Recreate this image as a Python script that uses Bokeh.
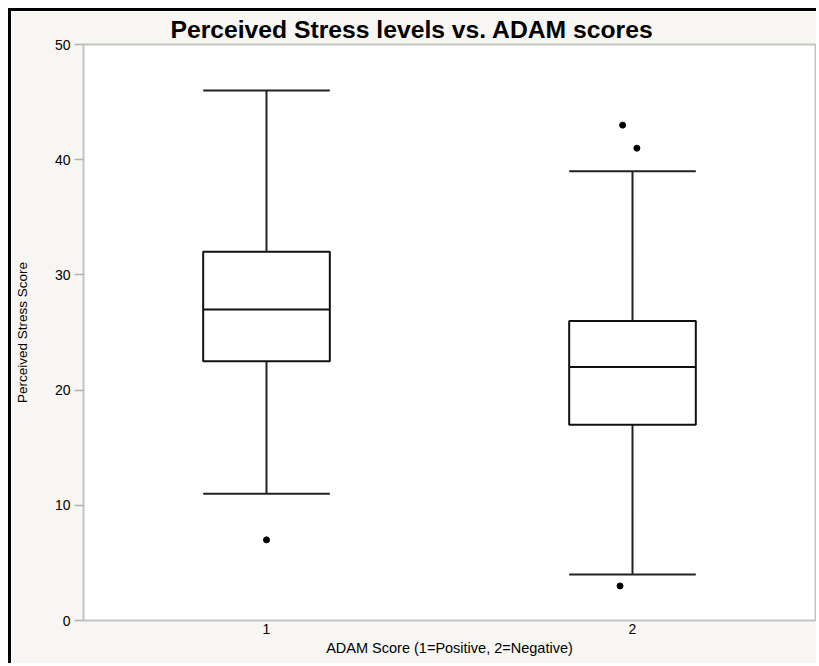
from bokeh.plotting import figure
from bokeh.models import Range1d, FixedTicker, Title
from bokeh.embed import file_html
from bokeh.resources import INLINE
import numpy as np

# Data
groups = [1, 2]
group_labels = ["1", "2"]
q1 = [22.5, 17]
median = [27, 22]
q3 = [32, 26]
lower_whisker = [11, 4]
upper_whisker = [46, 39]
outlier_x = [1.0, 1.973, 2.012, 1.966]
outlier_y = [7, 43, 41, 3]

title_text = "Perceived Stress levels vs. ADAM scores"
x_label = "ADAM Score (1=Positive, 2=Negative)"
y_label = "Perceived Stress Score"
y_ticks = [0, 10, 20, 30, 40, 50]

BOX_W = 0.346
FONT = "Liberation Sans"

p = figure(width=808, height=655, output_backend="svg", toolbar_location=None,
           x_range=Range1d(0.5, 2.5), y_range=Range1d(0, 50),
           min_border_left=72, min_border_right=4, min_border_top=33, min_border_bottom=46,
           styles={"border-left": "3px solid black", "border-top": "3px solid black",
                   "margin-left": "8px", "margin-top": "8px"})

p.add_layout(Title(text=title_text, align="left", offset=87, standoff=4,
                   text_font=FONT, text_font_size="24.7px", text_font_style="bold",
                   text_color="black"), "above")

p.background_fill_color = "white"
p.border_fill_color = "#f7f6f3"
p.outline_line_color = "#c4c4c4"
p.outline_line_width = 2
p.grid.visible = False

# axes
p.xaxis.ticker = FixedTicker(ticks=groups)
p.xaxis.major_label_overrides = {g: l for g, l in zip(groups, group_labels)}
p.yaxis.ticker = FixedTicker(ticks=y_ticks)
for ax in (p.xaxis[0], p.yaxis[0]):
    ax.axis_line_color = None
    ax.minor_tick_line_color = None
    ax.major_label_text_font = FONT
    ax.major_label_text_font_size = "14px"
    ax.major_label_text_color = "black"
    ax.axis_label_text_font = FONT
    ax.axis_label_text_font_style = "normal"
    ax.axis_label_text_color = "black"
p.xaxis.axis_label_text_font_size = "14.5px"
p.yaxis.axis_label_text_font_size = "13.5px"
p.xaxis.major_tick_line_color = None
p.xaxis.major_tick_out = 0
p.xaxis.major_tick_in = 0
p.xaxis.major_label_standoff = 3
p.xaxis.axis_label_standoff = 3
p.xaxis.axis_label = x_label
p.yaxis.major_tick_line_color = "#b0b0b0"
p.yaxis.major_tick_line_width = 1.5
p.yaxis.major_tick_out = 9
p.yaxis.major_tick_in = 0
p.yaxis.major_label_standoff = 4
p.yaxis.axis_label_standoff = 22
p.yaxis.axis_label = y_label

# whisker stems
p.segment(x0=groups, y0=q3, x1=groups, y1=upper_whisker, line_color="#222222", line_width=2)
p.segment(x0=groups, y0=q1, x1=groups, y1=lower_whisker, line_color="#222222", line_width=2)
# caps
gx = np.array(groups, dtype=float)
p.segment(x0=gx - BOX_W / 2, y0=upper_whisker, x1=gx + BOX_W / 2, y1=upper_whisker,
          line_color="#222222", line_width=2)
p.segment(x0=gx - BOX_W / 2, y0=lower_whisker, x1=gx + BOX_W / 2, y1=lower_whisker,
          line_color="#222222", line_width=2)
# boxes
p.vbar(x=groups, width=BOX_W, bottom=q1, top=q3, fill_color="white",
       line_color="#111111", line_width=2)
# medians
p.segment(x0=gx - BOX_W / 2, y0=median, x1=gx + BOX_W / 2, y1=median,
          line_color="#111111", line_width=2)
# outliers
p.scatter(x=outlier_x, y=outlier_y, size=6, fill_color="black", line_color="black")

open("out.html", "w").write(file_html(p, INLINE))
